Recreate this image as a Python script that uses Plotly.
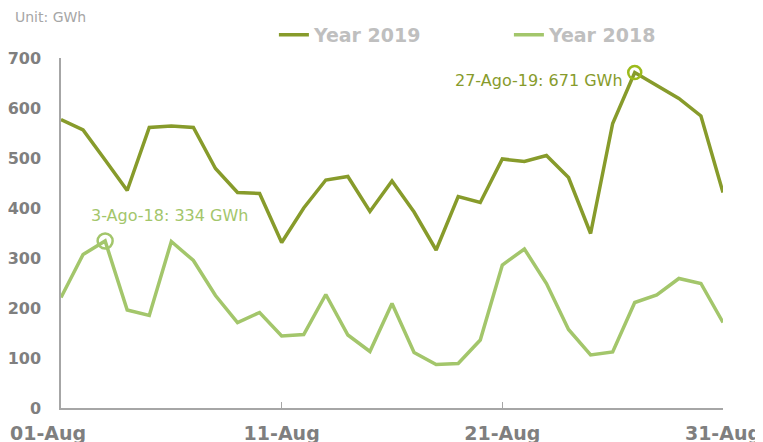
import plotly.graph_objects as go

# Daily values, August (GWh)
dias = [f"{d:02d}-Aug" for d in range(1, 32)]

ano_2019 = [577, 556, 496, 435, 561, 564, 561, 479, 431, 429,
            331, 400, 456, 463, 393, 454, 392, 316, 423, 411,
            498, 493, 505, 461, 349, 569, 671, 646, 619, 584, 431]

ano_2018 = [221, 307, 334, 196, 185, 333, 295, 225, 171, 191,
            144, 147, 227, 146, 113, 209, 111, 87, 89, 136,
            286, 318, 249, 157, 106, 112, 211, 226, 259, 249, 171]

tick_labels = ["01-Aug", "11-Aug", "21-Aug", "31-Aug"]

# Destaques (picos)
pico_2019 = ("27-Aug", 671, "27-Ago-19: 671 GWh")
pico_2018 = ("03-Aug", 334, "3-Ago-18: 334 GWh")

COR_2019 = "#879b2b"
COR_2018 = "#a3c66b"
COR_EIXO = "#a6a6a6"
FONTE_TICK = dict(family="DejaVu Sans", size=19, color="#7f7f7f", weight="bold")

fig = go.Figure()

fig.add_trace(go.Scatter(
    x=dias, y=ano_2019, mode="lines", name="Year 2019",
    line=dict(color=COR_2019, width=3.5)
))
fig.add_trace(go.Scatter(
    x=dias, y=ano_2018, mode="lines", name="Year 2018",
    line=dict(color=COR_2018, width=3.5)
))

# Círculos nos picos
fig.add_trace(go.Scatter(
    x=[pico_2019[0]], y=[pico_2019[1]], mode="markers", showlegend=False,
    marker=dict(symbol="circle-open", size=13, color="#9cbb1c", line=dict(width=2.5))
))
fig.add_trace(go.Scatter(
    x=[pico_2018[0]], y=[pico_2018[1]], mode="markers", showlegend=False,
    marker=dict(symbol="circle-open", size=15, color=COR_2018, line=dict(width=2.5))
))

fig.add_annotation(
    x=pico_2019[0], y=pico_2019[1], text=pico_2019[2], showarrow=False,
    xanchor="right", yanchor="middle", xshift=-10, yshift=-8,
    font=dict(family="DejaVu Sans", size=16, color=COR_2019)
)
fig.add_annotation(
    x=pico_2018[0], y=pico_2018[1], text=pico_2018[2], showarrow=False,
    xanchor="center", yanchor="middle", xshift=64, yshift=26,
    font=dict(family="DejaVu Sans", size=16, color=COR_2018)
)

fig.add_annotation(
    x=0, y=1, xref="paper", yref="paper", text="Unit: GWh", showarrow=False,
    xanchor="left", yanchor="middle", xshift=-48, yshift=41,
    font=dict(family="DejaVu Sans", size=14, color="#a6a6a6")
)

# primeiro rótulo do eixo x deslocado para a esquerda (como no original)
fig.add_annotation(
    x=dias[0], y=0, yref="paper", text=tick_labels[0], showarrow=False,
    xanchor="left", yanchor="middle", xshift=-53, yshift=-25,
    font=FONTE_TICK
)

fig.update_xaxes(
    type="category", range=[0, 30], automargin=False,
    tickvals=tick_labels[1:], ticktext=tick_labels[1:],
    showline=True, linecolor=COR_EIXO, linewidth=1.5,
    ticks="inside", ticklen=6, tickcolor=COR_EIXO,
    ticklabelstandoff=7,
    showgrid=False, zeroline=False,
    tickfont=FONTE_TICK
)
fig.update_yaxes(
    range=[0, 700], dtick=100, automargin=False,
    showline=True, linecolor=COR_EIXO, linewidth=1.5,
    ticks="", showgrid=False, zeroline=False,
    ticklabelstandoff=15,
    tickfont=dict(family="DejaVu Sans", size=16, color="#7f7f7f", weight="bold")
)

# a página tem 8px de margem: figura reduzida para caber na janela
fig.update_layout(
    width=755, height=434,
    margin=dict(l=53, r=40, t=50, b=34, autoexpand=False),
    plot_bgcolor="white", paper_bgcolor="white",
    showlegend=True,
    legend=dict(
        orientation="h", x=0.3216, y=1.066, xanchor="left", yanchor="middle",
        font=dict(family="DejaVu Sans", size=19, color="#bfbfbf", weight="bold"),
        itemwidth=30, tracegroupgap=0, entrywidthmode="pixels", entrywidth=190,
        bgcolor="rgba(0,0,0,0)"
    )
)

fig.write_html("out.html")
